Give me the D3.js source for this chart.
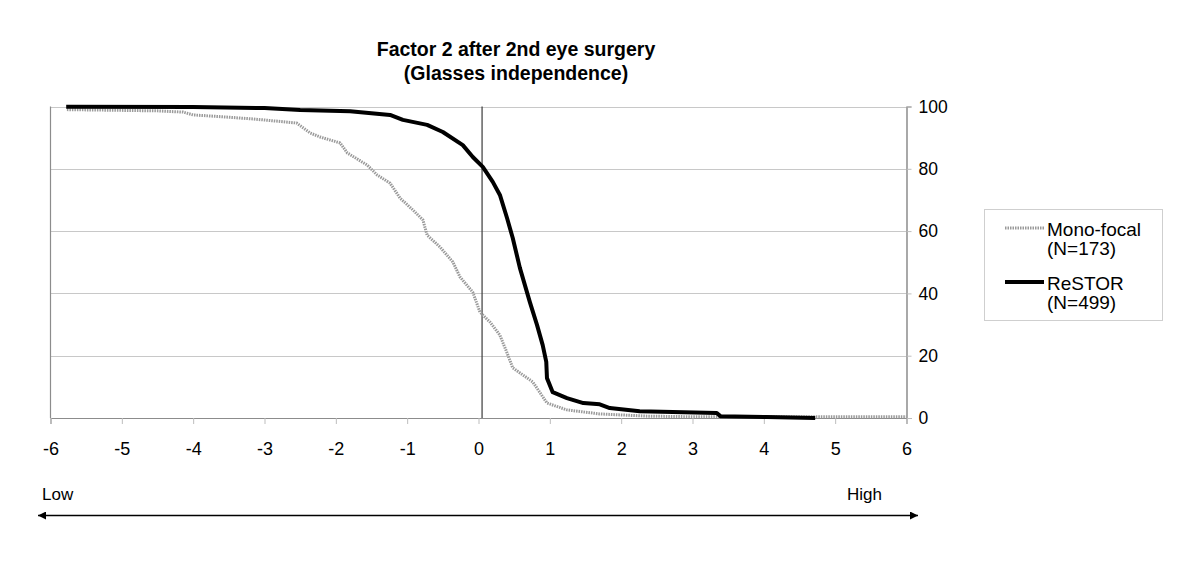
<!DOCTYPE html>
<html>
<head>
<meta charset="utf-8">
<script src="https://cdn.jsdelivr.net/npm/d3@7"></script>
<style>
  html, body { margin: 0; padding: 0; background: #fff; }
  svg { display: block; font-family: "Liberation Sans", Arial, sans-serif; }
</style>
</head>
<body>
<svg id="chart" width="1200" height="575"></svg>
<script>
// ---- data ----
const titleLines = ["Factor 2 after 2nd eye surgery", "(Glasses independence)"];
const xTicks = [-6, -5, -4, -3, -2, -1, 0, 1, 2, 3, 4, 5, 6];
const yTicks = [0, 20, 40, 60, 80, 100];
const refLineX = 0.05;

const restorX = [-5.78, -4.0, -3.0, -2.5, -1.8, -1.24, -1.06, -0.72, -0.50, -0.22, -0.08, 0.06, 0.20, 0.30, 0.40, 0.48, 0.58, 0.72, 0.82, 0.90, 0.95, 0.96, 1.04, 1.24, 1.47, 1.70, 1.84, 2.26, 3.34, 3.39, 4.04, 4.72];
const restorY = [99.9, 99.8, 99.5, 98.9, 98.5, 97.3, 95.7, 94.1, 91.8, 87.6, 83.8, 80.6, 75.8, 71.6, 64.2, 57.8, 48.2, 37.2, 29.9, 23.4, 18.0, 12.8, 8.3, 6.4, 4.8, 4.4, 3.2, 2.2, 1.6, 0.6, 0.3, 0.0];

const monoX = [-5.77, -4.5, -4.14, -4.0, -3.53, -3.16, -2.55, -2.36, -2.22, -1.94, -1.84, -1.56, -1.42, -1.24, -1.10, -0.92, -0.78, -0.72, -0.54, -0.36, -0.26, -0.08, 0.02, 0.16, 0.30, 0.40, 0.48, 0.76, 0.96, 1.24, 1.70, 2.36, 3.0, 6.0];
const monoY = [99.0, 98.6, 98.2, 97.3, 96.6, 96.0, 94.7, 91.5, 90.2, 88.3, 85.1, 81.2, 78.0, 75.4, 70.6, 66.8, 63.6, 58.7, 54.9, 50.1, 45.3, 40.4, 34.0, 30.8, 26.6, 20.9, 16.1, 11.6, 4.8, 2.6, 1.3, 0.6, 0.4, 0.4];

const seriesNames = ["Mono-focal", "ReSTOR"];
const seriesN = ["(N=173)", "(N=499)"];
const lowHigh = ["Low", "High"];

// ---- drawing ----
const svg = d3.select("#chart");
const x = d3.scaleLinear().domain([-6, 6]).range([50.5, 906.5]);
const y = d3.scaleLinear().domain([0, 100]).range([418, 106.5]);

// title
svg.append("g").selectAll("text").data(titleLines).join("text")
  .attr("x", 516).attr("y", (d, i) => 56 + i * 24)
  .attr("text-anchor", "middle").attr("font-weight", "bold")
  .attr("font-size", 19.5).attr("fill", "#000").text(d => d);

// gridlines
svg.append("g").selectAll("line").data(yTicks.filter(d => d > 0)).join("line")
  .attr("x1", x(-6)).attr("x2", x(6))
  .attr("y1", d => Math.round(y(d)) + 0.5).attr("y2", d => Math.round(y(d)) + 0.5)
  .attr("stroke", "#c8c8c8").attr("stroke-width", 1);

// plot border left
svg.append("line").attr("x1", x(-6)).attr("x2", x(-6)).attr("y1", y(100)).attr("y2", y(0))
  .attr("stroke", "#8c8c8c").attr("stroke-width", 1.2);

// x axis
const xAxis = d3.axisBottom(x).tickValues(xTicks).tickSize(6).tickFormat(d3.format("d"));
const gx = svg.append("g").attr("transform", `translate(0,${y(0)})`).call(xAxis);
gx.select(".domain").attr("stroke", "#8c8c8c").attr("stroke-width", 1.2);
gx.selectAll(".tick line").attr("stroke", "#bdbdbd");
gx.selectAll(".tick text").attr("font-size", 18).attr("fill", "#000").attr("dy", "0").attr("y", 37)
  .attr("font-family", "Liberation Sans, Arial, sans-serif")
  .text(d => d < 0 ? "-" + Math.abs(d) : d);

// y axis right
const yAxis = d3.axisRight(y).tickValues(yTicks).tickSize(5).tickFormat(d3.format("d"));
const gy = svg.append("g").attr("transform", `translate(${x(6)},0)`).call(yAxis);
gy.select(".domain").attr("stroke", "#707070").attr("stroke-width", 1.2);
gy.selectAll(".tick line").attr("stroke", "#bdbdbd");
gy.selectAll(".tick text").attr("font-size", 17.5).attr("fill", "#000").attr("x", 12)
  .attr("font-family", "Liberation Sans, Arial, sans-serif");

// reference vertical line
svg.append("line").attr("x1", x(refLineX)).attr("x2", x(refLineX))
  .attr("y1", y(100)).attr("y2", y(0))
  .attr("stroke", "#3a3a3a").attr("stroke-width", 1.2);

const line = d3.line().x(d => x(d[0])).y(d => y(d[1]));

// Mono-focal series
svg.append("path").datum(d3.zip(monoX, monoY))
  .attr("d", line).attr("fill", "none")
  .attr("stroke", "#9a9a9a").attr("stroke-width", 3)
  .attr("stroke-dasharray", "1.5,1");

// ReSTOR series
svg.append("path").datum(d3.zip(restorX, restorY))
  .attr("d", line).attr("fill", "none")
  .attr("stroke", "#000").attr("stroke-width", 4)
  .attr("stroke-linejoin", "round");

// legend
const lg = svg.append("g");
lg.append("rect").attr("x", 984.5).attr("y", 209.5).attr("width", 178).attr("height", 111)
  .attr("fill", "#fff").attr("stroke", "#cfcfcf").attr("stroke-width", 1);
const legendItems = [
  { name: seriesNames[0], n: seriesN[0], y0: 228, stroke: "#9a9a9a", w: 3, dash: "1.5,1" },
  { name: seriesNames[1], n: seriesN[1], y0: 282, stroke: "#000", w: 4, dash: null }
];
legendItems.forEach(it => {
  lg.append("line").attr("x1", 1005).attr("x2", 1044).attr("y1", it.y0).attr("y2", it.y0)
    .attr("stroke", it.stroke).attr("stroke-width", it.w)
    .attr("stroke-dasharray", it.dash);
  lg.append("text").attr("x", 1047).attr("y", it.y0 + 7.5).attr("font-size", 19).text(it.name);
  lg.append("text").attr("x", 1047).attr("y", it.y0 + 27).attr("font-size", 19).text(it.n);
});

// Low / High and arrow
svg.append("text").attr("x", 42).attr("y", 500).attr("font-size", 17).text(lowHigh[0]);
svg.append("text").attr("x", 847).attr("y", 500).attr("font-size", 17).text(lowHigh[1]);
const defs = svg.append("defs");
defs.append("marker").attr("id", "ah").attr("viewBox", "0 0 10 10")
  .attr("refX", 10).attr("refY", 5).attr("markerWidth", 10).attr("markerHeight", 8)
  .attr("markerUnits", "userSpaceOnUse").attr("orient", "auto-start-reverse")
  .append("path").attr("d", "M0,0 L10,5 L0,10 Z").attr("fill", "#000");
svg.append("line").attr("x1", 38).attr("x2", 918).attr("y1", 515.5).attr("y2", 515.5)
  .attr("stroke", "#000").attr("stroke-width", 1.3)
  .attr("marker-start", "url(#ah)").attr("marker-end", "url(#ah)");
</script>
</body>
</html>
